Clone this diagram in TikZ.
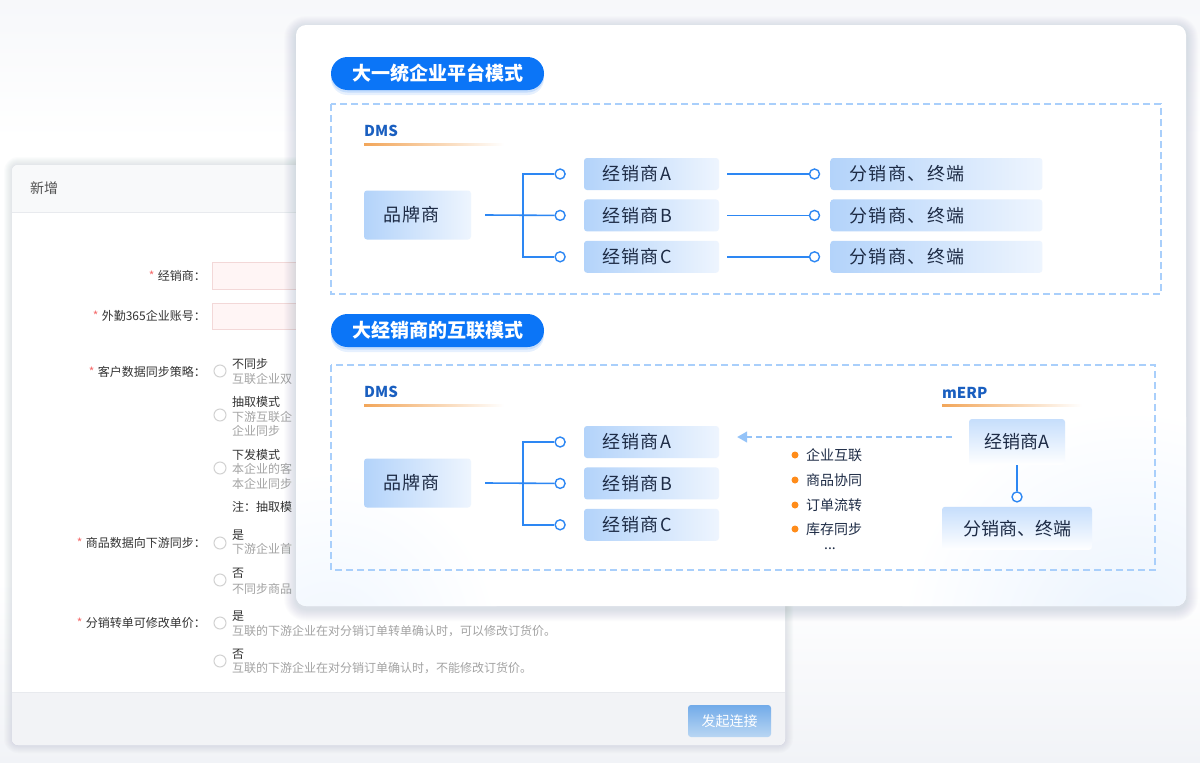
\documentclass[tikz,border=0pt]{standalone}
\usepackage{fontspec}
\setmainfont{Noto Sans CJK SC}
\newfontfamily\boxfont{Noto Sans CJK SC}[LetterSpace=8]
\usetikzlibrary{arrows.meta, positioning, calc}
\definecolor{pillBlue}{HTML}{0B75F7}
\definecolor{frameBlue}{HTML}{A9CFFB}
\definecolor{labelBlue}{HTML}{1A5FC0}
\definecolor{underOrange}{HTML}{F2A65A}
\definecolor{boxLeft}{HTML}{B3D3FA}
\definecolor{boxRight}{HTML}{EEF5FE}
\definecolor{navy}{HTML}{1D2B45}
\definecolor{linkBlue}{HTML}{2D87F3}
\definecolor{arrowBlue}{HTML}{94C3F8}
\definecolor{bulletOrange}{HTML}{FF8C1A}
\definecolor{mTop}{HTML}{C6DEFC}
\definecolor{glowBlue}{HTML}{EAF3FE}
\definecolor{pageGray}{HTML}{F1F3F7}
\definecolor{shadowInk}{HTML}{5A6B8C}
\definecolor{labelDark}{HTML}{333333}
\definecolor{noteGray}{HTML}{A3A3A3}
\definecolor{reqRed}{HTML}{F56C6C}
\definecolor{radioGray}{HTML}{D2D2D2}
\definecolor{inputFill}{HTML}{FFF5F5}
\definecolor{inputLine}{HTML}{F3D8D8}
\definecolor{headGray}{HTML}{F8F9FA}
\definecolor{footGray}{HTML}{F2F3F6}
\definecolor{lineGray}{HTML}{E8EAEE}
\definecolor{btnTop}{HTML}{72ABE9}
\definecolor{btnBottom}{HTML}{B9D6F3}
\tikzset{
  link/.style={draw=linkBlue, line width=1.6pt},
  syncFlow/.style={draw=arrowBlue, line width=1.4pt, dash pattern=on 6pt off 4pt,
                   -{Triangle[length=10pt, width=11pt]}},
  hollowDot/.style={circle, draw=linkBlue, fill=white, line width=1.4pt,
                    minimum size=10pt, inner sep=0pt},
  dealerBox/.style={rectangle, rounded corners=3pt, left color=boxLeft, right color=boxRight,
                    text=navy, font=\boxfont\fontsize{18}{20}\selectfont, align=left,
                    text width=99pt, inner xsep=18pt, inner ysep=0pt, minimum height=32pt},
  endBox/.style={dealerBox, text width=174pt, inner xsep=19pt},
  brandBox/.style={dealerBox, text width=69pt, inner xsep=19pt, minimum height=49pt},
  mBox/.style={rectangle, rounded corners=3pt, top color=mTop, bottom color=white,
               text=navy, font=\fontsize{18}{20}\selectfont, inner sep=0pt,
               minimum width=96pt, minimum height=46pt},
  mEndBox/.style={mBox, minimum width=150pt, minimum height=43pt},
  groupFrame/.style={draw=frameBlue, line width=1.3pt, dash pattern=on 7pt off 4pt},
  modePill/.style={rectangle, rounded corners=16.5pt, fill=pillBlue, text=white,
                   font=\bfseries\fontsize{19}{22}\selectfont, inner sep=0pt,
                   minimum width=213pt, minimum height=33pt,
                   preaction={fill=pillBlue, opacity=0.10, transform canvas={yshift=-5pt}},
                   preaction={fill=pillBlue, opacity=0.15, transform canvas={yshift=-2.5pt}}},
  sysLabel/.style={anchor=west, inner sep=0pt, text=labelBlue,
                   font=\bfseries\fontsize{15}{18}\selectfont},
  feature/.style={anchor=west, inner sep=0pt, text=navy, font=\fontsize{14}{16}\selectfont},
  formLabel/.style={anchor=east, inner sep=0pt, text=labelDark,
                    label={[text=reqRed, inner sep=3pt]left:*}},
  radioMark/.style={circle, draw=radioGray, fill=white, line width=1pt,
                    minimum size=12pt, inner sep=0pt},
  optTitle/.style={anchor=west, inner sep=0pt, text=labelDark},
  optNote/.style={anchor=west, inner sep=0pt, text=noteGray},
  sendBtn/.style={rectangle, rounded corners=3pt, top color=btnTop, bottom color=btnBottom,
                  text=white, font=\fontsize{14}{16}\selectfont, inner sep=0pt,
                  minimum width=83pt, minimum height=32pt},
}
\begin{document}
\begin{tikzpicture}[x=1pt, y=-1pt, font=\fontsize{12}{14}\selectfont]
  \useasboundingbox (0,0) rectangle (1200,763);
  % page
  \fill[white] (0,0) rectangle (1200,763);
  \shade[top color=pageGray!60, bottom color=white] (0,0) rectangle (1200,140);
  \shade[top color=white, bottom color=pageGray] (0,580) rectangle (1200,763);

  % form window behind
  \foreach \d in {1,...,8}
    \fill[shadowInk, opacity=0.018, rounded corners=6pt+\d pt]
      (12-\d,165-\d) rectangle (785+\d,745+\d);
  \fill[white, rounded corners=6pt] (12,165) rectangle (785,745);
  \begin{scope}
    \clip[rounded corners=6pt] (12,165) rectangle (785,745);
    \fill[headGray] (12,165) rectangle (785,212);
    \fill[footGray] (12,692) rectangle (785,745);
  \end{scope}
  \draw[lineGray] (12,212) -- (785,212);
  \draw[lineGray] (12,692) -- (785,692);
  \node[anchor=west, inner sep=0pt, text=labelDark!85, font=\fontsize{14}{16}\selectfont]
    (formTitle) at (30,188) {新增};
  \node[sendBtn] (send) at (729.5,721) {发起连接};

  \foreach \y/\t [count=\i] in {276/经销商：, 316/外勤365企业账号：, 372/客户数据同步策略：,
                                543/商品数据向下游同步：, 623/分销转单可修改单价：}
    \node[formLabel] (lab\i) at (206,\y) {\t};
  \fill[inputFill, draw=inputLine] (212,262) rectangle (320,289);
  \fill[inputFill, draw=inputLine] (212,303) rectangle (320,329);
  \foreach \y [count=\i] in {371,415,468,543,580,623,661}
    \node[radioMark] (radio\i) at (220,\y) {};
  \foreach \y/\t/\s [count=\i] in {364/不同步/optTitle, 379/互联企业双/optNote,
      402/抽取模式/optTitle, 417/下游互联企/optNote, 431/企业同步/optNote,
      455/下发模式/optTitle, 469/本企业的客/optNote, 484/本企业同步/optNote,
      507/注：抽取模/optTitle,
      535/是/optTitle, 549/下游企业首/optNote, 573/否/optTitle, 589/不同步商品/optNote,
      616/是/optTitle, 631/互联的下游企业在对分销订单转单确认时，可以修改订货价。/optNote,
      654/否/optTitle, 668/互联的下游企业在对分销订单确认时，不能修改订货价。/optNote}
    \node[\s] (opt\i) at (232,\y) {\t};

  % front card
  \foreach \d in {1,...,12}
    \fill[shadowInk, opacity=0.014, rounded corners=10pt+\d pt]
      (296-\d,25-\d+3) rectangle (1186+\d,606+\d+3);
  \fill[white, rounded corners=10pt] (296,25) rectangle (1186,606);
  \begin{scope}
    \clip[rounded corners=10pt] (296,25) rectangle (1186,606);
    \shade[inner color=glowBlue, outer color=white] (1130,640) circle (230);
    \shade[inner color=glowBlue!70, outer color=white] (330,640) circle (170);
  \end{scope}

  % ---- mode 1
  \node[modePill] (modeA) at (437.5,73.5) {大一统企业平台模式};
  \draw[groupFrame] (331,104) rectangle (1161,294);
  \node[sysLabel] (dmsA) at (364,131) {DMS};
  \shade[left color=underOrange, right color=white] (364,143) rectangle (504,145.5);

  \node[brandBox] (brandA) at (417.5,215) {品牌商};
  \node[dealerBox] (dAa) at (651.5,174) {经销商A};
  \node[dealerBox, below=9pt of dAa] (dAb) {经销商B};
  \node[dealerBox, below=9pt of dAb] (dAc) {经销商C};
  \foreach \k in {a,b,c} {
    \node[endBox, right=111pt of dA\k] (eA\k) {分销商、终端};
    \node[hollowDot, left=18pt of dA\k] (lA\k) {};
    \node[hollowDot, left=10pt of eA\k] (rA\k) {};
    \draw[link] ([xshift=8pt]dA\k.east) -- (rA\k.west);
  }
  \coordinate (forkA) at (523,215);
  \draw[link] (lAa.west) -| (forkA) |- (lAc.west);
  \draw[link] ([xshift=14pt]brandA.east) -- (lAb.west);

  % ---- mode 2
  \node[modePill] (modeB) at (437.5,330.5) {大经销商的互联模式};
  \draw[groupFrame] (331,365) rectangle (1155,570);
  \node[sysLabel] (dmsB) at (364,392) {DMS};
  \shade[left color=underOrange, right color=white] (364,404) rectangle (504,406.5);

  \node[brandBox] (brandB) at (417.5,483) {品牌商};
  \node[dealerBox] (dBa) at (651.5,442) {经销商A};
  \node[dealerBox, below=9pt of dBa] (dBb) {经销商B};
  \node[dealerBox, below=9pt of dBb] (dBc) {经销商C};
  \foreach \k in {a,b,c}
    \node[hollowDot, left=18pt of dB\k] (lB\k) {};
  \coordinate (forkB) at (523,483);
  \draw[link] (lBa.west) -| (forkB) |- (lBc.west);
  \draw[link] ([xshift=14pt]brandB.east) -- (lBb.west);

  \node[sysLabel] (mErp) at (942,393) {mERP};
  \shade[left color=underOrange, right color=white] (942,404) rectangle (1082,406.5);
  \node[mBox] (mA) at (1017,442) {经销商A};
  \node[hollowDot, below=26pt of mA] (mDot) {};
  \node[mEndBox, below=4pt of mDot] (mEnd) {分销商、终端};
  \draw[link] (mA.south) -- (mDot.north);
  \draw[syncFlow] ([xshift=-17pt, yshift=5pt]mA.west) -- ([xshift=18pt, yshift=5pt]dBa.east);

  \foreach \y/\t [count=\i] in {455/企业互联, 480/商品协同, 505/订单流转, 529/库存同步} {
    \node[feature] (feat\i) at (806,\y) {\t};
    \fill[bulletOrange] ([xshift=-11pt]feat\i.west) circle (3.5);
  }
  \node[feature, anchor=center] (featMore) at (830,549) {...};
\end{tikzpicture}
\end{document}
